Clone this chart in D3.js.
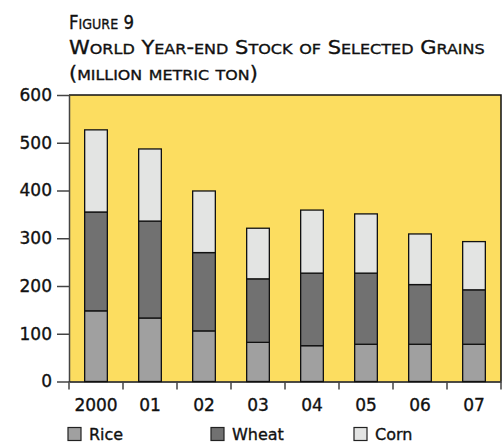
<!DOCTYPE html>
<html>
<head>
<meta charset="utf-8">
<script src="https://cdn.jsdelivr.net/npm/d3@7"></script>
<style>
  html, body { margin: 0; padding: 0; background: #fff; }
  svg { display: block; font-family: "DejaVu Sans", sans-serif; }
</style>
</head>
<body>
<div id="chart"></div>
<script>
// World year-end stock of selected grains (million metric ton)
const years = ["2000", "01", "02", "03", "04", "05", "06", "07"];
const rice  = [148, 133, 106, 82, 75, 78, 78, 78];
const wheat = [207, 203, 164, 133, 152, 149, 125, 114];
const corn  = [172, 151, 129, 106, 132, 124, 106, 101];
const seriesNames = ["Rice", "Wheat", "Corn"];
const seriesColors = ["#a0a0a0", "#717171", "#e3e4e3"];
const yTicks = [0, 100, 200, 300, 400, 500, 600];
const titleLines = ["Figure 9", "World Year-end Stock of Selected Grains", "(million metric ton)"];

const width = 503, height = 442;
const margin = { top: 95, right: 2, bottom: 60.5, left: 69 };

const svg = d3.select('#chart').append('svg')
    .attr('width', width)
    .attr('height', height);

const x = d3.scaleBand()
    .domain(years)
    .range([margin.left, width - margin.right])
    .paddingInner(0.58)
    .paddingOuter(0.29);

// same bands with no padding, used for the tick marks between years
const xEdges = d3.scaleBand()
    .domain(years)
    .range(x.range());

const y = d3.scaleLinear()
    .domain([0, 600])
    .range([height - margin.bottom, margin.top]);

// plot background
svg.append('rect')
    .attr('x', margin.left)
    .attr('y', y(600))
    .attr('width', x.range()[1] - margin.left)
    .attr('height', y(0) - y(600))
    .attr('fill', '#fcdd60');

// top and right border
svg.append('path')
    .attr('d', `M${margin.left},${y(600)}H${x.range()[1]}V${y(0)}`)
    .attr('fill', 'none')
    .attr('stroke', '#111')
    .attr('stroke-width', 1.5);

// stacked bars
const table = years.map((yr, i) => ({ year: yr, Rice: rice[i], Wheat: wheat[i], Corn: corn[i] }));
const stack = d3.stack().keys(seriesNames)(table);

svg.append('g')
    .selectAll('g')
    .data(stack)
    .join('g')
    .attr('fill', (d, i) => seriesColors[i])
    .selectAll('rect')
    .data(d => d)
    .join('rect')
    .attr('x', d => x(d.data.year))
    .attr('y', d => y(d[1]))
    .attr('width', x.bandwidth())
    .attr('height', d => y(d[0]) - y(d[1]))
    .attr('stroke', '#111')
    .attr('stroke-width', 1.3);

// slightly heavier text, closer to the medium weight of the original
const heavy = sel => sel.attr('stroke', '#111').attr('stroke-width', 0.35);

// y axis
const yAxis = svg.append('g')
    .attr('transform', `translate(${margin.left},0)`)
    .call(d3.axisLeft(y).tickValues(yTicks).tickSize(12).tickPadding(5).tickSizeOuter(0));
yAxis.select('.domain').attr('stroke', '#444').attr('stroke-width', 1.5);
yAxis.selectAll('.tick line').attr('stroke', '#444').attr('stroke-width', 1.5);
yAxis.selectAll('.tick text')
    .attr('font-family', '"DejaVu Sans", sans-serif')
    .attr('font-size', 17)
    .attr('fill', '#111')
    .call(heavy);

// x axis
const xAxis = svg.append('g')
    .attr('transform', `translate(0,${y(0)})`)
    .call(d3.axisBottom(x).tickSize(0).tickPadding(17).tickSizeOuter(0));
xAxis.select('.domain').attr('stroke', '#111').attr('stroke-width', 1.5);
xAxis.selectAll('.tick text')
    .attr('font-family', '"DejaVu Sans", sans-serif')
    .attr('font-size', 17)
    .attr('fill', '#111')
    .call(heavy);

const edgeX = years.map(d => xEdges(d)).concat([xEdges.range()[1]]);
xAxis.selectAll('.edge')
    .data(edgeX)
    .join('line')
    .attr('class', 'edge')
    .attr('x1', d => d).attr('x2', d => d)
    .attr('y1', 0).attr('y2', 8)
    .attr('stroke', '#444')
    .attr('stroke-width', 1.5);

// legend
const lx = d3.scaleBand().domain(seriesNames).range([68, 497]);
const legend = svg.append('g')
    .selectAll('g')
    .data(seriesNames)
    .join('g')
    .attr('transform', d => `translate(${lx(d)},427.5)`);
legend.append('rect')
    .attr('width', 13).attr('height', 13)
    .attr('fill', (d, i) => seriesColors[i])
    .attr('stroke', '#222')
    .attr('stroke-width', 1.2);
legend.append('text')
    .attr('x', 21).attr('y', 12)
    .attr('font-size', 16)
    .attr('fill', '#111')
    .call(heavy)
    .text(d => d);

// title in small caps: capitals big, lower case as smaller capitals
const titleBase = [29, 54, 80];
const titleWidth = [65, 416, 189];
titleLines.forEach((line, li) => {
    const t = svg.append('text')
        .attr('x', 0)
        .attr('y', 0)
        .attr('fill', '#111')
        .attr('font-family', '"DejaVu Sans", sans-serif')
        .call(heavy);
    const runs = line.match(/[a-z]+|[^a-z]+/g);
    runs.forEach(r => {
        const small = /[a-z]/.test(r);
        t.append('tspan')
            .attr('font-size', small ? 14.5 : 19)
            .text(small ? r.toUpperCase() : r);
    });
    const w = t.node().getComputedTextLength();
    t.attr('transform', `translate(${margin.left},${titleBase[li]}) scale(${titleWidth[li] / w},1)`);
});
</script>
</body>
</html>
